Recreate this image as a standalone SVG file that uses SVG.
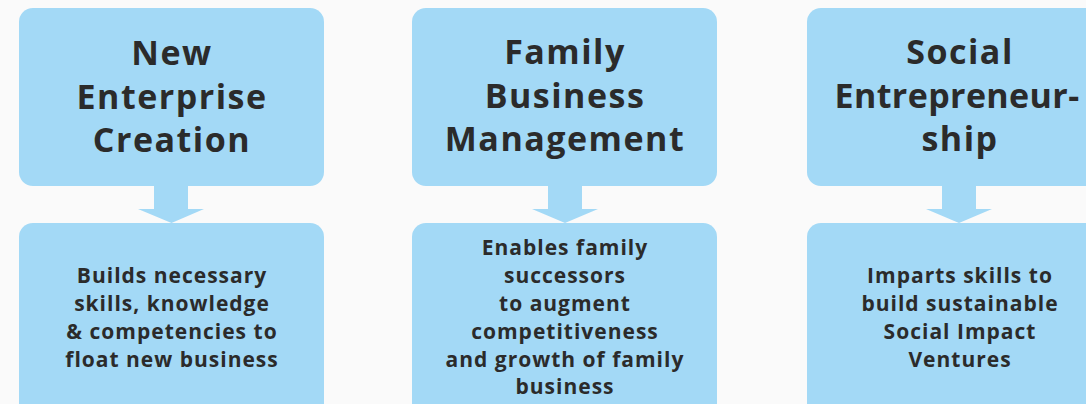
<svg xmlns="http://www.w3.org/2000/svg" width="1086" height="404" viewBox="0 0 1086 404">
  <style>
    .box { fill: #a3d9f6; }
    .arrow { fill: #a3d9f6; }
    .title { font-family: "Open Sans", "Liberation Sans", sans-serif; font-weight: 700; font-size: 34px; fill: #2b2b2b; text-anchor: middle; letter-spacing: 1.5px; }
    .tight { letter-spacing: 0.4px; }
    .body { font-family: "Open Sans", "Liberation Sans", sans-serif; font-weight: 700; font-size: 21px; fill: #2b2b2b; text-anchor: middle; letter-spacing: 1px; }
  </style>
  <rect x="0" y="0" width="1086" height="404" fill="#fafafa"/>

  <g id="connectors">
    <path class="arrow" d="M154,186 H188 V209 H204 L171.5,223 L138,209 H154 Z"/>
    <path class="arrow" d="M548,186 H582 V209 H598 L565,223 L532,209 H548 Z"/>
    <path class="arrow" d="M942,186 H976 V209 H992 L959,223 L926,209 H942 Z"/>
  </g>

  <g id="node-new-enterprise">
    <rect class="box" x="19" y="8" width="305" height="178" rx="14"/>
    <text class="title" x="172" y="65">New</text>
    <text class="title" x="172" y="109">Enterprise</text>
    <text class="title" x="172" y="152">Creation</text>
  </g>
  <g id="node-new-enterprise-desc">
    <rect class="box" x="19" y="223" width="305" height="200" rx="14"/>
    <text class="body" x="172" y="283">Builds necessary</text>
    <text class="body" x="172" y="311">skills, knowledge</text>
    <text class="body" x="172" y="339">&amp; competencies to</text>
    <text class="body" x="172" y="367">float new business</text>
  </g>

  <g id="node-family-business">
    <rect class="box" x="412" y="8" width="305" height="178" rx="14"/>
    <text class="title" x="565" y="64">Family</text>
    <text class="title" x="565" y="108">Business</text>
    <text class="title" x="565" y="151">Management</text>
  </g>
  <g id="node-family-business-desc">
    <rect class="box" x="412" y="223" width="305" height="200" rx="14"/>
    <text class="body" x="565" y="255">Enables family</text>
    <text class="body" x="565" y="283">successors</text>
    <text class="body" x="565" y="311">to augment</text>
    <text class="body" x="565" y="339">competitiveness</text>
    <text class="body" x="565" y="367">and growth of family</text>
    <text class="body" x="565" y="394">business</text>
  </g>

  <g id="node-social">
    <rect class="box" x="807" y="8" width="305" height="178" rx="14"/>
    <text class="title" x="960" y="64">Social</text>
    <text class="title tight" x="957" y="108">Entrepreneur-</text>
    <text class="title" x="960" y="151">ship</text>
  </g>
  <g id="node-social-desc">
    <rect class="box" x="807" y="223" width="305" height="200" rx="14"/>
    <text class="body" x="960" y="283">Imparts skills to</text>
    <text class="body" x="960" y="311">build sustainable</text>
    <text class="body" x="960" y="339">Social Impact</text>
    <text class="body" x="960" y="367">Ventures</text>
  </g>
</svg>
